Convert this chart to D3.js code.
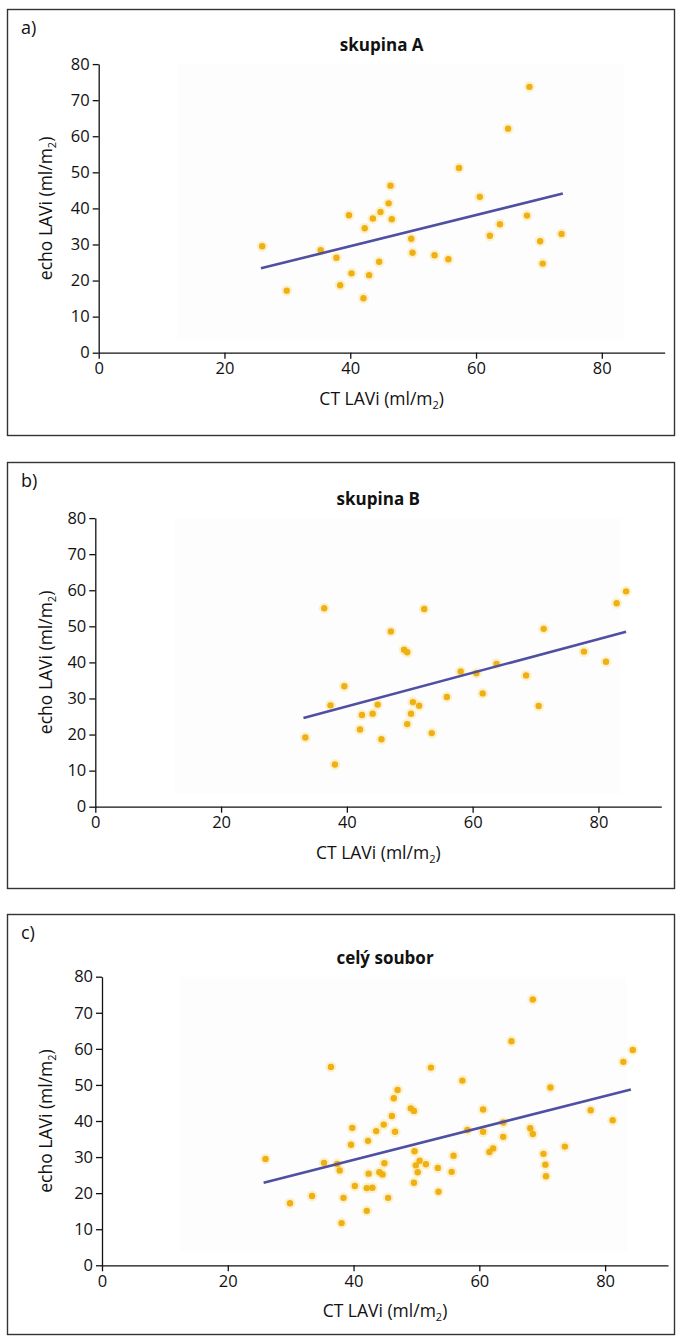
<!DOCTYPE html>
<html>
<head>
<meta charset="utf-8">
<script src="https://cdn.jsdelivr.net/npm/d3@7"></script>
<style>
  body { margin: 0; background: #fff; }
  text { font-family: "Open Sans", "Noto Sans", sans-serif; fill: #111; }
</style>
</head>
<body>
<div id="chart"></div>
<script>
// axis ticks
var xTicks = [0, 20, 40, 60, 80];
var yTicks = [0, 10, 20, 30, 40, 50, 60, 70, 80];

var panelLabels = ["a)", "b)", "c)"];
var panelTitles = ["skupina A", "skupina B", "celý soubor"];

// skupina A: CT LAVi vs echo LAVi
var groupA_ct   = [26.0, 29.9, 35.3, 37.8, 38.4, 39.8, 40.2, 42.1, 42.3, 43.0,
                   43.6, 44.6, 44.8, 46.1, 46.4, 46.6, 49.7, 49.9, 53.4, 55.6,
                   57.3, 60.6, 62.2, 63.8, 65.1, 68.1, 68.5, 70.2, 70.6, 73.6];
var groupA_echo = [29.5, 17.2, 28.4, 26.3, 18.7, 38.1, 22.0, 15.1, 34.5, 21.5,
                   37.2, 25.2, 39.0, 41.4, 46.3, 37.0, 31.6, 27.7, 27.0, 25.9,
                   51.2, 43.2, 32.4, 35.6, 62.1, 38.0, 73.7, 30.9, 24.7, 32.9];

// skupina B
var groupB_ct   = [33.4, 36.4, 37.4, 38.1, 39.6, 42.1, 42.4, 44.1, 44.9, 45.5,
                   47.0, 49.1, 49.6, 49.6, 50.2, 50.5, 51.5, 52.3, 53.5, 55.9,
                   58.1, 60.6, 61.6, 63.8, 68.5, 70.5, 71.3, 77.7, 81.2, 82.9, 84.4];
var groupB_echo = [19.2, 55.0, 28.1, 11.7, 33.4, 21.4, 25.4, 25.8, 28.3, 18.7,
                   48.6, 43.5, 42.8, 22.9, 25.8, 29.0, 28.0, 54.8, 20.4, 30.4,
                   37.5, 37.0, 31.4, 39.6, 36.4, 27.9, 49.3, 43.0, 40.2, 56.4, 59.7];

// regression lines (end points)
var fitA_ct = [25.8, 73.8], fitA_echo = [23.4, 44.1];
var fitB_ct = [33.1, 84.4], fitB_echo = [24.6, 48.5];
var fitC_ct = [25.7, 84.1], fitC_echo = [22.9, 48.75];

// celý soubor = A + B
var groupC_ct = groupA_ct.concat(groupB_ct);
var groupC_echo = groupA_echo.concat(groupB_echo);

var svg = d3.select("#chart")
  .append("svg")
  .attr("width", 682)
  .attr("height", 1337);

// layout of the three boxes
var panels = [
  { top: 9,   bottom: 435,  x0: 98.7,  y0: 352.7,  ct: groupA_ct, echo: groupA_echo, fitX: fitA_ct, fitY: fitA_echo },
  { top: 462, bottom: 888,  x0: 95.3,  y0: 806.7,  ct: groupB_ct, echo: groupB_echo, fitX: fitB_ct, fitY: fitB_echo },
  { top: 914, bottom: 1334, x0: 102,   y0: 1265.3, ct: groupC_ct, echo: groupC_echo, fitX: fitC_ct, fitY: fitC_echo }
];

function axisTitle(sel, prefix) {
  sel.append("tspan").text(prefix + " (ml/m");
  sel.append("tspan").attr("font-size", 11).attr("dy", 4).text("2");
  sel.append("tspan").attr("dy", -4).text(")");
}

panels.forEach(function (p, i) {
  var g = svg.append("g");

  // box
  g.append("rect")
    .attr("x", 7.5).attr("y", p.top + 0.5)
    .attr("width", 667).attr("height", p.bottom - p.top)
    .style("fill", "none").style("stroke", "#333").style("stroke-width", 1.4);

  g.append("text")
    .attr("x", 21).attr("y", p.top + 25)
    .attr("font-size", 18)
    .text(panelLabels[i]);

  var x = d3.scaleLinear().domain([0, 90]).range([p.x0, p.x0 + 566]);
  var y = d3.scaleLinear().domain([0, 80]).range([p.y0, p.y0 - 288.6]);

  // faint plot background
  g.append("rect")
    .attr("x", x(12.5)).attr("y", y(80))
    .attr("width", x(83.5) - x(12.5)).attr("height", y(3.5) - y(80))
    .style("fill", "#fdfdfd");

  g.append("text")
    .attr("x", x(45)).attr("y", y(80) - 13)
    .attr("text-anchor", "middle")
    .attr("font-size", 17).attr("font-weight", "bold")
    .text(panelTitles[i]);

  var xa = g.append("g")
    .attr("transform", "translate(0," + p.y0 + ")")
    .call(d3.axisBottom(x).tickValues(xTicks).tickSize(6).tickSizeOuter(0).tickPadding(4));
  var ya = g.append("g")
    .attr("transform", "translate(" + p.x0 + ",0)")
    .call(d3.axisLeft(y).tickValues(yTicks).tickSize(6).tickSizeOuter(0).tickPadding(3));
  [xa, ya].forEach(function (a) {
    a.selectAll("path, line").style("stroke", "#111").style("stroke-width", 1.3);
    a.selectAll("text").attr("font-size", 16.5).style("font-family", '"Open Sans", sans-serif').style("fill", "#111");
  });

  g.append("text")
    .attr("x", x(45)).attr("y", p.y0 + 52)
    .attr("text-anchor", "middle")
    .attr("font-size", 17.5)
    .call(axisTitle, "CT LAVi");

  g.append("text")
    .attr("transform", "translate(46," + y(40) + ") rotate(-90)")
    .attr("text-anchor", "middle")
    .attr("dy", "0.35em")
    .attr("font-size", 17.5)
    .call(axisTitle, "echo LAVi");

  var pts = d3.range(p.ct.length).map(function (k) { return { ct: p.ct[k], echo: p.echo[k] }; });

  // soft halo, then dot
  g.selectAll(".halo").data(pts).enter().append("circle")
    .attr("cx", function (d) { return x(d.ct); })
    .attr("cy", function (d) { return y(d.echo); })
    .attr("r", 5.5)
    .style("fill", "#fbe6a0").style("opacity", 0.5);
  g.selectAll(".dot").data(pts).enter().append("circle")
    .attr("cx", function (d) { return x(d.ct); })
    .attr("cy", function (d) { return y(d.echo); })
    .attr("r", 3.2)
    .style("fill", "#eeb012");

  g.append("line")
    .attr("x1", x(p.fitX[0])).attr("y1", y(p.fitY[0]))
    .attr("x2", x(p.fitX[1])).attr("y2", y(p.fitY[1]))
    .style("stroke", "#4f4fa3").style("stroke-width", 2.6);
});
</script>
</body>
</html>
